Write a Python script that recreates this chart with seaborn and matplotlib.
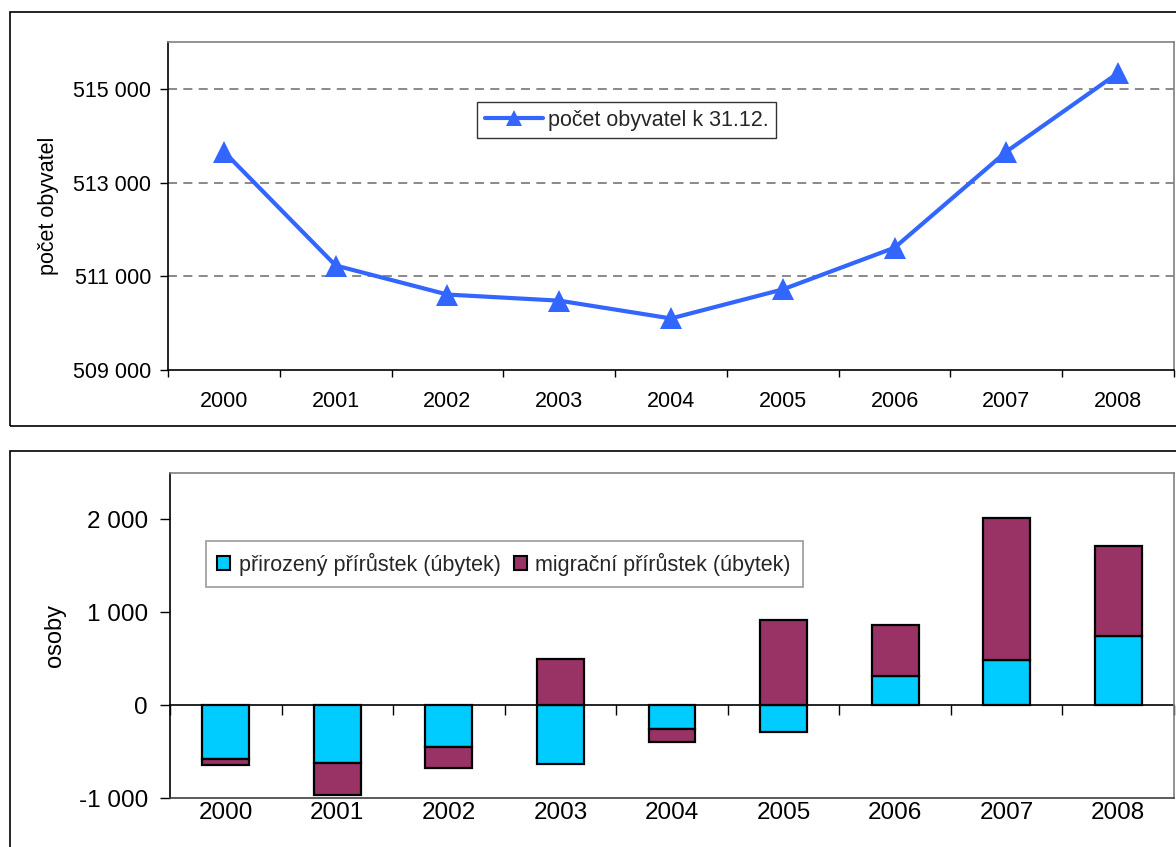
import numpy as np
import pandas as pd
import matplotlib
matplotlib.use("Agg")
import matplotlib.pyplot as plt
from matplotlib.patches import Rectangle, Patch
from matplotlib.lines import Line2D
from matplotlib.ticker import FuncFormatter, FixedLocator
import seaborn as sns

# ---- data ----
years = ["2000", "2001", "2002", "2003", "2004", "2005", "2006", "2007", "2008"]
population = [513660, 511230, 510610, 510480, 510100, 510720, 511610, 513660, 515340]
natural = [-581, -624, -448, -628, -258, -284, 315, 487, 745]
migration = [-64, -341, -223, 495, -133, 920, 545, 1530, 971]

pop_label = "počet obyvatel k 31.12."
nat_label = "přirozený přírůstek (úbytek)"
mig_label = "migrační přírůstek (úbytek)"
top_ylabel = "počet obyvatel"
bottom_ylabel = "osoby"
top_yticks = [509000, 511000, 513000, 515000]
bottom_yticks = [-1000, 0, 1000, 2000]

sns.set_theme(style="white")
plt.rcParams["font.family"] = ["Liberation Sans", "DejaVu Sans"]

LINE_C = "#3366FF"
NAT_C = "#00CCFF"
MIG_C = "#993366"
GRAY = "#808080"

fmt = FuncFormatter(lambda v, p: f"{v:,.0f}".replace(",", " "))

fig = plt.figure(figsize=(11.76, 8.47), dpi=100)

# outer chart frames
fig.add_artist(Rectangle((10 / 1176, (847 - 426) / 847), 1.2, 414 / 847,
                         transform=fig.transFigure, fill=False, edgecolor="black", lw=1.2))
fig.add_artist(Rectangle((10 / 1176, -0.1), 1.2, 0.1 + (847 - 451) / 847,
                         transform=fig.transFigure, fill=False, edgecolor="black", lw=1.2))

# ---------------- top chart ----------------
ax1 = fig.add_axes([168 / 1176, (847 - 370) / 847, (1174 - 168) / 1176, 328 / 847])
df_pop = pd.DataFrame({"pos": np.arange(len(years)), "pop": population})
sns.lineplot(data=df_pop, x="pos", y="pop", ax=ax1, color=LINE_C, lw=3,
             marker="^", markersize=16, markeredgewidth=0, markerfacecolor=LINE_C,
             zorder=5)
ax1.set_xlim(-0.5, len(years) - 0.5)
ax1.set_ylim(509000, 516000)
ax1.set_yticks(top_yticks)
ax1.yaxis.set_major_formatter(fmt)
ax1.set_xticks(np.arange(len(years)))
ax1.set_xticklabels(years)
ax1.xaxis.set_minor_locator(FixedLocator(np.arange(len(years) + 1) - 0.5))
ax1.tick_params(axis="x", which="major", length=0, pad=15, labelsize=15.5, colors="black")
ax1.tick_params(axis="x", which="minor", length=5, width=1, color="black", direction="out", bottom=True)
ax1.tick_params(axis="y", length=6, width=1, color="black", direction="out", left=True,
                pad=6, labelsize=15.5, labelcolor="black")
ax1.set_xlabel("")
ax1.set_ylabel(top_ylabel, fontsize=15.5, color="black")
ax1.yaxis.set_label_coords(-0.108, 0.5)
for y in top_yticks[1:]:
    ax1.axhline(y, color=GRAY, lw=1.3, ls=(0, (5, 3.5)), zorder=1)
for s in ["top", "right"]:
    ax1.spines[s].set_color(GRAY)
    ax1.spines[s].set_linewidth(1.2)
for s in ["left", "bottom"]:
    ax1.spines[s].set_color("black")
    ax1.spines[s].set_linewidth(1.2)
h1 = Line2D([], [], color=LINE_C, lw=3, marker="^", markersize=12, markeredgewidth=0)
leg1 = ax1.legend([h1], [pop_label], loc="center", bbox_to_anchor=(0.456, 0.761),
                  fontsize=15.5, frameon=True, fancybox=False, edgecolor="black",
                  handlelength=2.7, handletextpad=0.25, borderpad=0.35, borderaxespad=0)
leg1.get_frame().set_linewidth(1.0)

# ---------------- bottom chart ----------------
ax2 = fig.add_axes([170 / 1176, (847 - 798.3) / 847, (1174 - 170) / 1176, 325.6 / 847])
df_bar = pd.DataFrame({"year": years, "nat": natural, "mig": migration})
sns.barplot(data=df_bar, x="year", y="nat", ax=ax2, color=NAT_C, width=0.42,
            edgecolor="black", linewidth=1.6, saturation=1, zorder=3)
mig_bottom = [n if (m * n > 0) else 0 for n, m in zip(natural, migration)]
ax2.bar(np.arange(len(years)), migration, width=0.42, bottom=mig_bottom, color=MIG_C,
        edgecolor="black", linewidth=1.6, zorder=3)
ax2.set_xlim(-0.5, len(years) - 0.5)
ax2.set_ylim(-1000, 2500)
ax2.set_yticks(bottom_yticks)
ax2.yaxis.set_major_formatter(fmt)
ax2.tick_params(axis="x", length=0, pad=3, labelsize=17.5, colors="black")
ax2.tick_params(axis="y", length=7, width=1, color="black", direction="out", left=True,
                pad=9, labelsize=17.5, labelcolor="black")
ax2.set_xlabel("")
ax2.set_ylabel(bottom_ylabel, fontsize=17, color="black")
ax2.yaxis.set_label_coords(-0.1036, 0.5)
for s in ["top", "right", "bottom"]:
    ax2.spines[s].set_color(GRAY)
    ax2.spines[s].set_linewidth(1.2)
ax2.spines["bottom"].set_color("#404040")
ax2.spines["left"].set_color("black")
ax2.spines["left"].set_linewidth(1.2)

# zero axis with category-boundary ticks
sec = ax2.secondary_xaxis(1000 / 3500)
sec.set_xticks(np.arange(len(years) + 1) - 0.5)
sec.tick_params(axis="x", length=7, width=1, color="black", direction="out", labelbottom=False,
                labeltop=False)
sec.spines["bottom"].set_color("black")
sec.spines["bottom"].set_linewidth(1.2)

h_nat = Patch(facecolor=NAT_C, edgecolor="black", linewidth=1.5)
h_mig = Patch(facecolor=MIG_C, edgecolor="black", linewidth=1.5)
leg2 = ax2.legend([h_nat, h_mig], [nat_label, mig_label], loc="center",
                  bbox_to_anchor=(0.3327, 0.7196), ncol=2, fontsize=15.5, frameon=True,
                  fancybox=False, edgecolor=GRAY, handlelength=0.6, handleheight=0.6,
                  handletextpad=0.4, columnspacing=0.6, borderpad=0.55, borderaxespad=0)
leg2.get_frame().set_linewidth(1.2)

fig.savefig("out.png", dpi=100)
